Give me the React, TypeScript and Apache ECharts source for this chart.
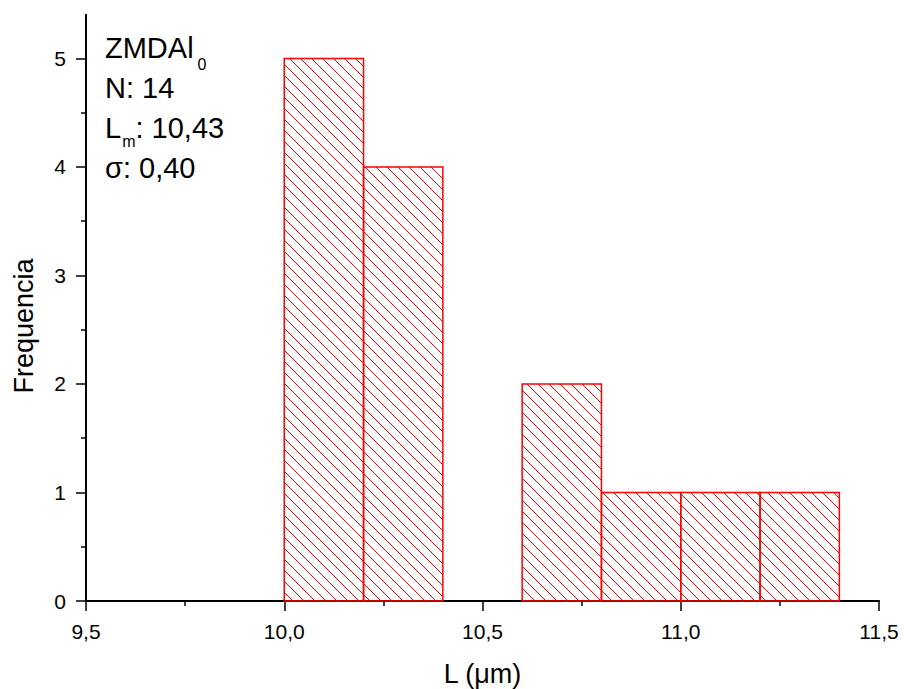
import { useEffect, useRef } from "react";
import * as echarts from "echarts";

// Histogram bins (µm) and their counts
const binEdges = [10.0, 10.2, 10.4, 10.6, 10.8, 11.0, 11.2, 11.4];
const counts = [5, 4, 0, 2, 1, 1, 1];

// Axis ticks
const xMin = 9.5;
const xMax = 11.5;
const xInterval = 0.5;
const yMax = 5.4;
const yTicks = [0, 1, 2, 3, 4, 5];
const yMinorTicks = [0.5, 1.5, 2.5, 3.5, 4.5];

// Sample summary
const sampleName = "ZMDAl";
const sampleSub = "0";
const sampleN = "N: 14";
const meanLabel = "L";
const meanSub = "m";
const meanValue = ": 10,43";
const sigmaLabel = "σ: 0,40";

const xTitle = "L (μm)";
const yTitle = "Frequencia";

const FONT = "'Liberation Sans', Arial, Helvetica, sans-serif";
const RED = "#ff0000";
const BLACK = "#000000";

const measure = (() => {
  const ctx = document.createElement("canvas").getContext("2d");
  return (txt: string, size: number) => {
    if (!ctx) return txt.length * size * 0.55;
    ctx.font = `${size}px 'Liberation Sans', Arial, sans-serif`;
    return ctx.measureText(txt).width;
  };
})();

// vertical centre of a text line whose alphabetic baseline sits at `baseline`
const mid = (baseline: number, size: number) => baseline - 0.35 * size;

const txt = (
  text: string,
  x: number,
  baseline: number,
  size: number,
  extra: Record<string, unknown> = {}
) => ({
  type: "text",
  x,
  y: mid(baseline, size),
  silent: true,
  style: {
    text,
    fontSize: size,
    fontFamily: FONT,
    fill: BLACK,
    align: "left",
    verticalAlign: "middle",
  },
  ...extra,
});

export default function App() {
  const ref = useRef<HTMLDivElement>(null);

  useEffect(() => {
    if (!ref.current) return;
    const chart = echarts.init(ref.current, undefined, { renderer: "svg" });

    const data = counts.map((c, i) => [binEdges[i], binEdges[i + 1], c]);

    const big = 29;
    const small = 16;
    const left = 105;
    const wName = measure(sampleName, big);
    const wL = measure(meanLabel, big);
    const wm = measure(meanSub, small);

    chart.setOption({
      animation: false,
      backgroundColor: "#ffffff",
      grid: {
        left: 86,
        right: 25,
        top: 15,
        bottom: 88,
        containLabel: false,
        outerBoundsMode: "none",
      },
      xAxis: {
        type: "value",
        min: xMin,
        max: xMax,
        interval: xInterval,
        axisLine: { show: true, onZero: false, lineStyle: { color: BLACK, width: 2 } },
        axisTick: {
          show: true,
          inside: false,
          length: 10,
          lineStyle: { color: BLACK, width: 1.5 },
        },
        minorTick: {
          show: true,
          splitNumber: 2,
          length: 5,
          lineStyle: { color: BLACK, width: 1.5 },
        },
        axisLabel: {
          color: BLACK,
          fontSize: 21,
          fontFamily: FONT,
          margin: 20,
          formatter: (v: number) => v.toFixed(1).replace(".", ","),
        },
        splitLine: { show: false },
        minorSplitLine: { show: false },
      },
      yAxis: [
        {
          type: "value",
          min: 0,
          max: yMax,
          position: "left",
          axisLine: { show: true, lineStyle: { color: BLACK, width: 2 } },
          axisTick: {
            show: true,
            inside: false,
            customValues: yTicks,
            length: 10,
            lineStyle: { color: BLACK, width: 1.5 },
          },
          axisLabel: {
            customValues: yTicks,
            color: BLACK,
            fontSize: 21,
            fontFamily: FONT,
            margin: 20,
          },
          splitLine: { show: false },
        },
        {
          type: "value",
          min: 0,
          max: yMax,
          position: "left",
          offset: 0,
          axisLine: { show: true, lineStyle: { color: BLACK, width: 2 } },
          axisTick: {
            show: true,
            inside: false,
            customValues: yMinorTicks,
            length: 5,
            lineStyle: { color: BLACK, width: 1.5 },
          },
          axisLabel: { show: false },
          splitLine: { show: false },
        },
      ],
      series: [
        {
          type: "custom",
          coordinateSystem: "cartesian2d",
          xAxisIndex: 0,
          yAxisIndex: 0,
          encode: { x: [0, 1], y: 2 },
          data,
          renderItem: (_params: unknown, api: any) => {
            const start = api.value(0);
            const end = api.value(1);
            const n = api.value(2);
            if (!n) return { type: "group", children: [] };
            const tl = api.coord([start, n]);
            const br = api.coord([end, 0]);
            const x0 = tl[0];
            const y0 = tl[1];
            const x1 = br[0];
            const y1 = br[1];
            const step = 11;
            const children: any[] = [];
            // diagonal hatching: lines x - y = c, clipped to the bar
            const cMin = x0 - y1;
            const cMax = x1 - y0;
            for (let c = Math.ceil(cMin / step) * step; c <= cMax; c += step) {
              const ya = Math.max(y0, x0 - c);
              const yb = Math.min(y1, x1 - c);
              if (yb - ya < 0.5) continue;
              children.push({
                type: "line",
                silent: true,
                shape: { x1: ya + c, y1: ya, x2: yb + c, y2: yb },
                style: { stroke: RED, lineWidth: 1 },
              });
            }
            children.push({
              type: "rect",
              shape: { x: x0, y: y0, width: x1 - x0, height: y1 - y0 },
              style: { fill: "none", stroke: RED, lineWidth: 1.5 },
            });
            return { type: "group", children };
          },
        },
      ],
      graphic: [
        txt(sampleName, left, 58, big),
        txt(sampleSub, left + wName + 4, 70, small),
        txt(sampleN, left, 98, big),
        txt(meanLabel, left, 138, big),
        txt(meanSub, left + wL + 1, 147, small),
        txt(meanValue, left + wL + wm + 1, 138, big),
        txt(sigmaLabel, left, 178, big),
        {
          type: "text",
          x: 482.5,
          y: 673.5,
          silent: true,
          style: {
            text: xTitle,
            fontSize: 27,
            fontFamily: FONT,
            fill: BLACK,
            align: "center",
            verticalAlign: "middle",
          },
        },
        {
          type: "text",
          x: 23.5,
          y: 326,
          rotation: Math.PI / 2,
          silent: true,
          style: {
            text: yTitle,
            fontSize: 27,
            fontFamily: FONT,
            fill: BLACK,
            align: "center",
            verticalAlign: "middle",
          },
        },
      ],
    });

    return () => chart.dispose();
  }, []);

  return (
    <div
      ref={ref}
      style={{ position: "fixed", left: 0, top: 0, width: 904, height: 689 }}
    />
  );
}
